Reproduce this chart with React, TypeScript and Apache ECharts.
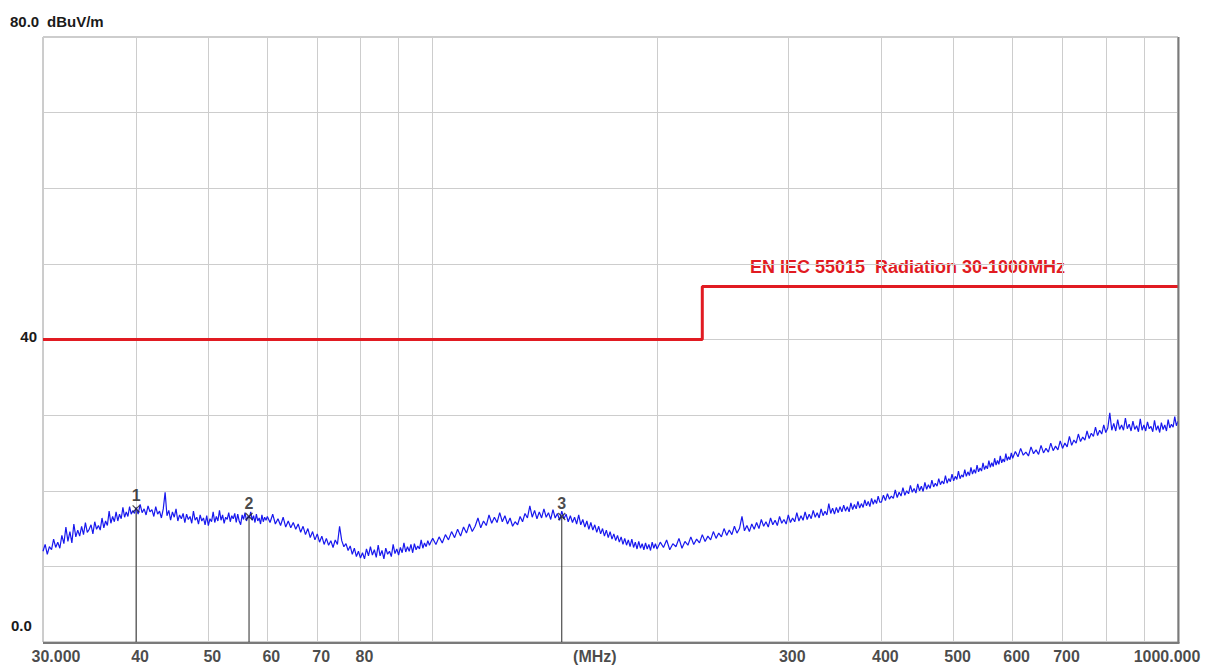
import React, { useEffect, useRef } from 'react';
import * as echarts from 'echarts';

// Measured trace (dBuV/m), swept in segments
const sweep30to40 = [
  12.0, 12.9, 11.6, 12.6, 12.2, 13.6, 12.5, 13.2, 12.4, 14.1,
  13.0, 15.2, 13.3, 14.6, 13.1, 15.6, 13.9, 14.8, 14.0, 15.3,
  14.2, 15.8, 14.5, 14.9, 15.5, 14.3, 15.9, 14.9, 15.4, 14.8,
  16.4, 15.1, 16.0, 15.4, 17.3, 15.7, 16.6, 15.9, 17.2, 16.0,
  16.9, 16.3, 17.8, 16.5, 17.2, 16.6, 17.9, 16.9, 17.4, 17.0,
];
const sweep40to60 = [
  17.8, 16.9, 18.2, 17.1, 17.6, 16.8, 18.0, 17.2, 17.5, 16.6,
  17.9, 16.9, 17.3, 16.4, 17.6, 19.8, 16.7, 17.4, 16.1, 17.2,
  16.5, 17.6, 16.0, 16.8, 16.3, 17.0, 15.8, 16.9, 16.2, 16.6,
  15.7, 17.3, 16.1, 16.5, 15.6, 16.8, 16.0, 16.4, 15.5, 16.7,
  15.4, 16.3, 15.9, 17.2, 15.8, 16.6, 16.0, 17.4, 16.1, 16.8,
  15.7, 16.5, 16.2, 17.1, 15.9, 16.7, 16.3, 17.0, 15.8, 16.9,
  16.0, 15.5, 16.8, 16.2, 17.1, 16.0, 16.6, 16.4, 17.2, 16.1,
  16.7, 15.8, 16.9, 16.0, 16.4, 15.6, 16.8, 15.9, 16.5, 16.1,
];
const sweep60to100 = [
  16.6, 15.8, 16.9, 15.6, 16.3, 15.4, 16.5, 15.2, 16.0, 15.1,
  15.8, 14.9, 15.6, 14.5, 15.3, 14.2, 15.0, 13.8, 14.6, 13.5,
  14.3, 13.2, 14.0, 12.9, 13.7, 12.8, 13.4, 12.5, 13.5, 12.9,
  15.3, 13.4, 12.6, 13.0, 12.1, 12.7, 11.6, 12.4, 11.3, 12.0,
  11.1, 11.8, 11.0, 12.3, 11.4, 12.6, 11.5, 12.2, 11.2, 12.8,
  11.4, 12.1, 11.0, 12.4, 11.6, 12.0, 11.3, 12.9, 11.7, 12.3,
  11.5, 12.5, 11.8, 13.1, 11.9, 12.6, 12.0, 12.9, 11.8, 13.0,
  12.2, 12.7, 12.3, 13.5, 12.4, 13.1, 12.6, 13.4, 12.8, 13.3,
];
const sweep100to200 = [
  13.7, 12.9, 13.9, 13.1, 14.2, 13.5, 14.6, 13.8, 14.9, 14.0,
  15.2, 14.4, 15.6, 14.6, 15.3, 16.4, 15.1, 16.0, 15.4, 16.8,
  15.7, 16.5, 15.8, 17.1, 15.9, 16.7, 15.6, 16.4, 15.3, 15.9,
  15.5, 16.6, 15.9, 17.0, 16.4, 18.0, 16.5, 17.4, 16.3, 17.2,
  16.4, 17.6, 16.5, 17.1, 16.2, 17.5, 16.4, 17.0, 16.1, 17.3,
  16.3, 16.9, 15.9, 16.7, 15.8, 16.5, 15.6, 16.8, 15.5, 16.2,
  15.2, 16.0, 14.9, 15.8, 14.8, 15.5, 14.5, 15.3, 14.3, 15.0,
  14.0, 14.8, 13.8, 14.6, 13.6, 14.3, 13.4, 14.1, 13.2, 13.9,
  12.9, 13.7, 12.8, 13.5, 12.6, 13.6, 12.5, 13.2, 12.3, 13.3,
  12.4, 13.0, 12.2, 13.1, 12.3, 12.9, 12.1, 13.2, 12.4, 13.0,
];
const sweep200to400 = [
  12.3, 13.2, 12.5, 13.5, 12.2, 13.0, 12.6, 13.7, 12.4, 13.3,
  12.8, 13.9, 12.9, 13.6, 13.1, 14.2, 13.3, 14.0, 13.5, 14.6,
  13.7, 14.4, 13.9, 15.0, 14.1, 14.8, 14.2, 15.3, 14.4, 15.0,
  16.6, 14.7, 15.4, 14.6, 15.6, 14.9, 15.8, 15.0, 16.2, 15.3,
  15.9, 15.2, 16.4, 15.5, 16.1, 15.4, 16.6, 15.7, 16.2, 15.6,
  16.8, 15.8, 16.4, 15.9, 17.1, 16.0, 16.7, 16.1, 17.2, 16.2,
  16.9, 16.3, 17.4, 16.5, 17.1, 16.4, 17.6, 16.7, 17.3, 16.8,
  18.3, 17.0, 17.7, 16.9, 17.8, 17.1, 17.9, 17.2, 18.1, 17.3,
  17.9, 17.2, 18.4, 17.5, 18.2, 17.6, 18.6, 17.7, 18.3, 17.8,
  18.8, 18.0, 18.6, 17.9, 19.0, 18.2, 18.8, 18.3, 19.3, 18.5,
];
const sweep400to600 = [
  18.5, 19.4, 18.7, 19.6, 18.9, 19.3, 19.0, 20.1, 19.1, 19.8,
  19.3, 20.4, 19.4, 20.0, 19.6, 20.7, 19.8, 20.3, 19.7, 20.9,
  20.0, 20.6, 19.9, 21.1, 20.2, 20.8, 20.3, 21.4, 20.5, 21.0,
  20.6, 21.6, 20.8, 21.3, 20.9, 22.0, 21.0, 21.6, 21.2, 22.2,
  21.3, 21.9, 21.5, 22.6, 21.6, 22.1, 21.8, 22.8, 21.9, 22.5,
  22.0, 23.1, 22.2, 22.8, 22.3, 23.4, 22.5, 23.0, 22.6, 23.7,
  22.8, 23.3, 22.9, 24.0, 23.1, 23.7, 23.2, 24.3, 23.4, 24.0,
  23.5, 24.6, 23.7, 24.2, 23.8, 24.9, 24.0, 24.5, 24.1, 25.0,
];
const sweep600to1000 = [
  24.3, 25.2, 24.5, 25.6, 24.7, 25.1, 24.6, 25.8, 24.9, 25.4,
  24.8, 26.0, 25.0, 25.6, 25.1, 26.3, 25.3, 25.9, 25.4, 26.6,
  25.6, 26.3, 25.8, 27.2, 26.0, 26.7, 26.3, 27.5, 26.5, 27.1,
  26.7, 27.9, 26.9, 27.6, 27.2, 28.4, 27.3, 28.0, 27.5, 28.7,
  27.7, 28.3, 30.3, 28.0, 28.9, 27.9, 29.4, 28.1, 28.7, 28.0,
  29.6, 28.2, 28.8, 27.9, 29.2, 28.1, 28.6, 27.8, 29.5, 28.0,
  28.7, 27.9, 29.1, 28.2, 28.5, 27.8, 29.3, 28.0, 28.6, 27.7,
  29.0, 28.1, 28.7, 27.9, 29.4, 28.3, 28.8, 28.4, 29.8, 28.6,
  29.2,
];
const sweepStartMHz = [30, 40, 60, 100, 200, 400, 600];
const sweepStepMHz = [0.2, 0.25, 0.5, 1, 2, 2.5, 5];
const sweepLevels = [sweep30to40, sweep40to60, sweep60to100, sweep100to200, sweep200to400, sweep400to600, sweep600to1000];

// Limit line EN IEC 55015
const limitFreq = [30, 230, 230, 1000];
const limitLevel = [40, 40, 47, 47];
const limitName = 'EN IEC 55015  Radiation 30-1000MHz';

// Markers
const markerNo = ['1', '2', '3'];
const markerFreq = [40.0, 56.7, 149];
const markerLevel = [17.6, 16.6, 16.6];

// Axis grid / tick labels
const xGridFreq = [40, 50, 60, 70, 80, 90, 100, 200, 300, 400, 500, 600, 700, 800, 900];
const xTickFreq = [30, 40, 50, 60, 70, 80, 163, 300, 400, 500, 600, 700, 1000];
const xTickText = ['30.000', '40', '50', '60', '70', '80', '(MHz)', '300', '400', '500', '600', '700', '1000.000'];

const FONT = '"Liberation Sans", Arial, sans-serif';

export default function App() {
  const ref = useRef<HTMLDivElement>(null);
  useEffect(() => {
    if (!ref.current) return;
    const chart = echarts.init(ref.current, undefined, { renderer: 'svg' });
    const trace: number[][] = [];
    sweepLevels.forEach((levels, s) => {
      levels.forEach((v, i) => {
        trace.push([+(sweepStartMHz[s] + i * sweepStepMHz[s]).toFixed(2), v]);
      });
    });
    const limitData = limitFreq.map((f, i) => [f, limitLevel[i]]);

    const markerLines = markerFreq.map((f, i) => ({
      type: 'line',
      data: [[f, markerLevel[i]], [f, 0]],
      symbol: 'none',
      lineStyle: { color: '#2a2a2a', width: 1 },
      silent: true,
      z: 4,
    }));

    const tickLabelOffset = (i: number) => (i === 0 ? 13 : i === xTickText.length - 1 ? -11 : 4);

    const option: any = {
      animation: false,
      backgroundColor: '#ffffff',
      grid: { left: 43, right: 40, top: 37, bottom: 28, show: true, borderColor: '#9a9a9a', borderWidth: 1, backgroundColor: '#ffffff' },
      xAxis: {
        type: 'log', logBase: 10, min: 30, max: 1000,
        axisLine: { show: false }, axisTick: { show: false }, axisLabel: { show: false }, splitLine: { show: false },
      },
      yAxis: {
        type: 'value', min: 0, max: 80, interval: 10,
        axisLine: { show: false }, axisTick: { show: false }, axisLabel: { show: false },
        splitLine: { lineStyle: { color: '#cdcdcd', width: 1 } },
      },
      series: [
        {
          type: 'line',
          name: limitName,
          data: limitData,
          symbol: 'none',
          lineStyle: { color: '#e11b22', width: 3 },
          z: 3,
          markLine: {
            silent: true,
            symbol: ['none', 'none'],
            label: { show: false },
            lineStyle: { color: '#cdcdcd', type: 'solid', width: 1 },
            data: xGridFreq.map((f) => ({ xAxis: f })),
            z: 1,
          },
        },
        {
          type: 'line',
          name: 'trace',
          data: trace,
          symbol: 'none',
          lineStyle: { color: '#1818ee', width: 1.2 },
          z: 5,
        },
        ...markerLines,
        {
          type: 'scatter',
          data: markerFreq.map((f, i) => [f, markerLevel[i]]),
          symbol: 'path://M0 0L10 10M10 0L0 10',
          symbolSize: 7,
          itemStyle: { color: 'transparent', borderColor: '#222', borderWidth: 1.2 },
          label: {
            show: true, position: 'top', distance: 1,
            formatter: (p: any) => markerNo[p.dataIndex],
            color: '#1a1a1a', fontFamily: FONT, fontWeight: 'bold', fontSize: 16,
          },
          silent: true,
          z: 6,
        },
        {
          type: 'scatter',
          data: xTickFreq.map((f) => [f, 0]),
          symbolSize: 0,
          silent: true,
          clip: false,
          label: {
            show: true, position: 'bottom', distance: 6,
            formatter: (p: any) => xTickText[p.dataIndex],
            color: '#1a1a1a', fontFamily: FONT, fontWeight: 'bold', fontSize: 16,
          },
          labelLayout: (p: any) => ({ dx: tickLabelOffset(p.dataIndex) }),
          z: 6,
        },
      ],
      graphic: [
        { type: 'line', silent: true, shape: { x1: 1178.5, y1: 37, x2: 1178.5, y2: 643 }, style: { stroke: '#7a7a7a', lineWidth: 2 }, z: 10 },
        { type: 'line', silent: true, shape: { x1: 43, y1: 643, x2: 1179.5, y2: 643 }, style: { stroke: '#7a7a7a', lineWidth: 2 }, z: 10 },
        { type: 'text', silent: true, style: { text: '80.0', x: 10, y: 21, font: `bold 15px ${FONT}`, fill: '#1a1a1a', textAlign: 'left', textVerticalAlign: 'middle', align: 'left', verticalAlign: 'middle' } },
        { type: 'text', silent: true, style: { text: 'dBuV/m', x: 47, y: 21, font: `bold 15px ${FONT}`, fill: '#1a1a1a', textAlign: 'left', textVerticalAlign: 'middle', align: 'left', verticalAlign: 'middle' } },
        { type: 'text', silent: true, style: { text: '40', x: 37, y: 336, font: `bold 15px ${FONT}`, fill: '#1a1a1a', textAlign: 'right', textVerticalAlign: 'middle', align: 'right', verticalAlign: 'middle' } },
        { type: 'text', silent: true, style: { text: '0.0', x: 11, y: 625, font: `bold 15px ${FONT}`, fill: '#1a1a1a', textAlign: 'left', textVerticalAlign: 'middle', align: 'left', verticalAlign: 'middle' } },
        { type: 'text', silent: true, style: { text: limitName, x: 750, y: 267, font: `bold 18px ${FONT}`, fill: '#e11b22', textAlign: 'left', textVerticalAlign: 'middle', align: 'left', verticalAlign: 'middle' } },
      ],
    };
    chart.setOption(option);
    return () => chart.dispose();
  }, []);
  return <div ref={ref} style={{ position: 'absolute', left: 0, top: 0, width: 1218, height: 670, background: '#fff' }} />;
}
